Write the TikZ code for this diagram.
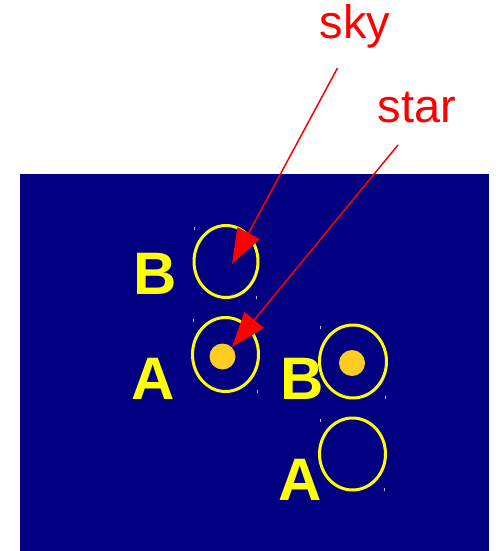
\documentclass[tikz,border=0pt]{standalone}
\usepackage{fontspec}
\setmainfont{Liberation Sans}
\usetikzlibrary{arrows.meta}
\definecolor{skyblue}{RGB}{0,0,128}
\definecolor{ringyellow}{RGB}{255,255,0}
\definecolor{stargold}{RGB}{255,204,34}
\definecolor{callred}{RGB}{255,0,0}
\tikzset{
  ring/.style={draw=ringyellow, line width=3pt},
  stardot/.style={fill=stargold},
  letter/.style={text=ringyellow, font=\fontsize{60}{60}\selectfont\bfseries, inner sep=0pt},
  callout/.style={text=callred, font=\fontsize{47}{47}\selectfont, inner sep=0pt},
  pointer/.style={draw=callred, line width=1.5pt, -{Triangle[length=35pt,width=25pt]}},
  tick/.style={draw=white!75!skyblue, line width=1pt}
}
\begin{document}
\begin{tikzpicture}[x=1pt,y=-1pt]
  \useasboundingbox (0,0) rectangle (495,551);
  % night sky panel
  \fill[skyblue] (20,174) rectangle (489,551);

  % rings with corner handles
  \foreach \cx/\cy/\rx/\ry/\nm in {226/261.5/32/36/ringBtop, 225.5/354.5/33/37/ringAleft, 353/361.5/33.5/36.5/ringBright, 352.5/454/33/36/ringAright}{
    \draw[ring] (\cx,\cy) ellipse [x radius=\rx, y radius=\ry];
    \draw[tick] (\cx-\rx+0.5,\cy-\ry+1) -- ++(0,3);
    \draw[tick] (\cx+\rx-1.5,\cy+\ry-2) -- ++(0,3);
  }
  \node[circle, stardot, minimum size=26pt, inner sep=0pt] (starA) at (222.5,356.5) {};
  \node[circle, stardot, minimum size=26pt, inner sep=0pt] (starB) at (352,363) {};

  % ring labels
  \node[letter] (lblB1) at (155.5,274) {B};
  \node[letter] (lblA1) at (153.5,379) {A};
  \node[letter] (lblB2) at (302,378.5) {B};
  \node[letter] (lblA2) at (300.5,479.5) {A};

  % callouts
  \node[callout, anchor=base] (sky) at (355,38) {sky};
  \node[callout, anchor=base] (star) at (417,122) {star};
  \coordinate (skytail) at (337.5,68);
  \coordinate (skytip) at (232,264);
  \coordinate (startail) at (398,145);
  \coordinate (startip) at (232,347);
  \draw[pointer] (skytail) -- (skytip);
  \draw[pointer] (startail) -- (startip);
\end{tikzpicture}
\end{document}
